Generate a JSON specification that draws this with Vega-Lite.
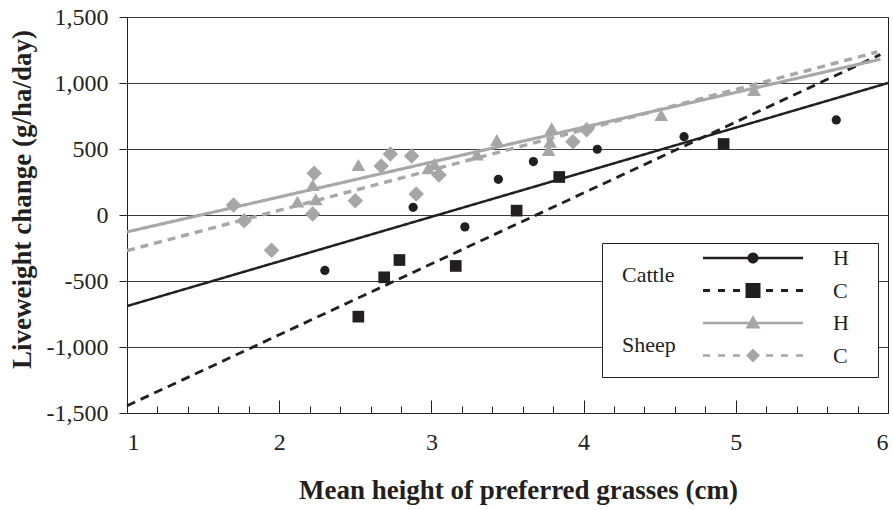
{
  "$schema": "https://vega.github.io/schema/vega-lite/v6.json",
  "width": 761,
  "height": 396,
  "autosize": {"type": "none"},
  "padding": {"left": 127, "top": 17, "right": 5, "bottom": 97},
  "background": "white",
  "config": {
    "view": {"stroke": "#231f20", "strokeWidth": 1},
    "font": "Liberation Serif",
    "axis": {"labelFont": "Liberation Serif", "titleFont": "Liberation Serif", "labelFontSize": 24, "labelColor": "#231f20", "titleColor": "#231f20"},
    "legend": {"labelFont": "Liberation Serif", "titleFont": "Liberation Serif"}
  },
  "datasets": {
    "points": [
      {"series": "Cattle H", "x": 2.30, "y": -420},
      {"series": "Cattle H", "x": 2.88, "y": 58},
      {"series": "Cattle H", "x": 3.22, "y": -90},
      {"series": "Cattle H", "x": 3.44, "y": 270},
      {"series": "Cattle H", "x": 3.67, "y": 405},
      {"series": "Cattle H", "x": 4.09, "y": 498},
      {"series": "Cattle H", "x": 4.66, "y": 593},
      {"series": "Cattle H", "x": 5.66, "y": 720},
      {"series": "Cattle C", "x": 2.52, "y": -770},
      {"series": "Cattle C", "x": 2.69, "y": -472},
      {"series": "Cattle C", "x": 2.79, "y": -341},
      {"series": "Cattle C", "x": 3.16, "y": -386},
      {"series": "Cattle C", "x": 3.56, "y": 33},
      {"series": "Cattle C", "x": 3.84, "y": 288},
      {"series": "Cattle C", "x": 4.92, "y": 538},
      {"series": "Sheep H", "x": 2.12, "y": 101},
      {"series": "Sheep H", "x": 2.22, "y": 227},
      {"series": "Sheep H", "x": 2.24, "y": 119},
      {"series": "Sheep H", "x": 2.52, "y": 379},
      {"series": "Sheep H", "x": 2.98, "y": 354},
      {"series": "Sheep H", "x": 3.02, "y": 386},
      {"series": "Sheep H", "x": 3.30, "y": 458},
      {"series": "Sheep H", "x": 3.43, "y": 568},
      {"series": "Sheep H", "x": 3.77, "y": 492},
      {"series": "Sheep H", "x": 3.78, "y": 555},
      {"series": "Sheep H", "x": 3.79, "y": 657},
      {"series": "Sheep H", "x": 4.51, "y": 758},
      {"series": "Sheep H", "x": 5.12, "y": 947},
      {"series": "Sheep C", "x": 1.70, "y": 76},
      {"series": "Sheep C", "x": 1.77, "y": -43},
      {"series": "Sheep C", "x": 1.95, "y": -267},
      {"series": "Sheep C", "x": 2.23, "y": 316},
      {"series": "Sheep C", "x": 2.22, "y": 8},
      {"series": "Sheep C", "x": 2.50, "y": 108},
      {"series": "Sheep C", "x": 2.67, "y": 371},
      {"series": "Sheep C", "x": 2.73, "y": 462},
      {"series": "Sheep C", "x": 2.87, "y": 447},
      {"series": "Sheep C", "x": 2.90, "y": 159},
      {"series": "Sheep C", "x": 3.05, "y": 303},
      {"series": "Sheep C", "x": 3.93, "y": 555},
      {"series": "Sheep C", "x": 4.02, "y": 646}
    ],
    "lines": [
      {"series": "Cattle H", "animal": "Cattle", "x": 1, "y": -690},
      {"series": "Cattle H", "animal": "Cattle", "x": 6, "y": 1000},
      {"series": "Cattle C", "animal": "Cattle", "x": 1, "y": -1445},
      {"series": "Cattle C", "animal": "Cattle", "x": 5.95, "y": 1215},
      {"series": "Sheep H", "animal": "Sheep", "x": 1, "y": -128},
      {"series": "Sheep H", "animal": "Sheep", "x": 5.95, "y": 1180},
      {"series": "Sheep C", "animal": "Sheep", "x": 1, "y": -270},
      {"series": "Sheep C", "animal": "Sheep", "x": 5.93, "y": 1235}
    ]
  },
  "encoding": {
    "x": {
      "field": "x", "type": "quantitative",
      "scale": {"domain": [1, 6], "nice": false, "zero": false},
      "axis": {
        "orient": "bottom",
        "values": [1, 1.2, 1.4, 1.6, 1.8, 2, 2.2, 2.4, 2.6, 2.8, 3, 3.2, 3.4, 3.6, 3.8, 4, 4.2, 4.4, 4.6, 4.8, 5, 5.2, 5.4, 5.6, 5.8, 6],
        "labelExpr": "datum.value % 1 === 0 ? format(datum.value, 'd') : ''",
        "tickSize": {"condition": {"test": "datum.value % 1 === 0", "value": -13}, "value": -7},
        "tickColor": "#231f20", "tickWidth": 1,
        "domainColor": "#231f20", "domainWidth": 1, "grid": false,
        "labelFont": "Liberation Serif", "labelFontSize": 24, "labelColor": "#231f20",
        "labelPadding": 30, "labelFlush": true, "labelOverlap": false,
        "title": "Mean height of preferred grasses (cm)",
        "titleFont": "Liberation Serif", "titleFontSize": 27, "titleFontWeight": "bold", "titleColor": "#231f20",
        "titlePadding": 17, "titleX": 391
      }
    },
    "y": {
      "field": "y", "type": "quantitative",
      "scale": {"domain": [-1500, 1500], "nice": false, "zero": false},
      "axis": {
        "orient": "left",
        "values": [-1500, -1000, -500, 0, 500, 1000, 1500],
        "labelExpr": "datum.value < 0 ? '-' + format(-datum.value, ',') : format(datum.value, ',')",
        "tickSize": 8, "tickColor": "#231f20", "domainColor": "#231f20",
        "grid": true, "gridColor": "#3a3a3a", "gridWidth": 1,
        "labelFont": "Liberation Serif", "labelFontSize": 24, "labelColor": "#231f20", "labelPadding": 11,
        "title": "Liveweight change (g/ha/day)",
        "titleFont": "Liberation Serif", "titleFontSize": 27, "titleFontWeight": "bold", "titleColor": "#231f20",
        "titlePadding": 10, "titleY": 182
      }
    }
  },
  "resolve": {
    "scale": {"color": "independent", "shape": "independent"}
  },
  "layer": [
    {
      "data": {"name": "lines"},
      "mark": {"type": "line"},
      "encoding": {
        "color": {
          "field": "series", "type": "nominal",
          "scale": {"domain": ["Cattle H", "Cattle C", "Sheep H", "Sheep C"], "range": ["#231f20", "#231f20", "#a8a8aa", "#a8a8aa"]},
          "legend": null
        },
        "strokeDash": {
          "field": "series", "type": "nominal",
          "scale": {"domain": ["Cattle H", "Cattle C", "Sheep H", "Sheep C"], "range": [[1, 0], [9, 6], [1, 0], [8, 6]]},
          "legend": null
        },
        "strokeWidth": {
          "field": "series", "type": "ordinal",
          "scale": {"domain": ["Cattle H", "Cattle C", "Sheep H", "Sheep C"], "range": [2.5, 3.5, 2.5, 2.5]},
          "legend": null
        },
        "opacity": {
          "field": "animal", "type": "ordinal",
          "scale": {"domain": ["Cattle", "Sheep"], "range": [1, 1]},
          "legend": {
            "title": null, "orient": "none", "legendX": 475, "legendY": 226, "direction": "vertical",
            "padding": 21, "rowPadding": 48, "strokeColor": "#231f20", "fillColor": "white", "cornerRadius": 0,
            "symbolType": "M0,0M223,0", "symbolSize": 4, "symbolStrokeWidth": 0,
            "labelFont": "Liberation Serif", "labelFontSize": 22, "labelColor": "#231f20", "labelOffset": -23
          }
        }
      }
    },
    {
      "data": {"name": "points"},
      "mark": {"type": "point", "filled": true, "opacity": 1, "strokeWidth": 0},
      "encoding": {
        "color": {
          "field": "series", "type": "nominal",
          "scale": {"domain": ["Cattle H", "Cattle C", "Sheep H", "Sheep C"], "range": ["#231f20", "#231f20", "#a6a6a8", "#a6a6a8"]},
          "legend": null
        },
        "shape": {
          "field": "series", "type": "nominal",
          "scale": {"domain": ["Cattle H", "Cattle C", "Sheep H", "Sheep C"], "range": ["circle", "square", "triangle-up", "diamond"]},
          "legend": null
        },
        "size": {
          "field": "series", "type": "ordinal",
          "scale": {"domain": ["Cattle H", "Cattle C", "Sheep H", "Sheep C"], "range": [85, 240, 225, 196]},
          "legend": null
        }
      }
    },
    {
      "data": {"name": "points"},
      "mark": {"type": "point", "filled": true, "size": 4, "strokeWidth": 0, "opacity": 0},
      "encoding": {
        "color": {
          "field": "series", "type": "nominal",
          "scale": {"domain": ["Cattle H", "Cattle C", "Sheep H", "Sheep C"], "range": ["#231f20", "#231f20", "#a6a6a8", "#a6a6a8"]},
          "legend": {
            "title": null, "orient": "none", "legendX": 576, "legendY": 230, "direction": "vertical",
            "padding": 0, "rowPadding": 10.5, "symbolSize": 4, "symbolStrokeWidth": 0, "symbolOpacity": 1,
            "labelFont": "Liberation Serif", "labelFontSize": 22, "labelColor": "#231f20", "labelOffset": 108,
            "labelExpr": "slice(datum.label, -1)"
          }
        },
        "shape": {
          "field": "series", "type": "nominal",
          "scale": {
            "domain": ["Cattle H", "Cattle C", "Sheep H", "Sheep C"],
            "range": [
              "M-11,-1.35H89V1.35H-11ZM33.5,0A5.5,5.5,0,1,1,44.5,0A5.5,5.5,0,1,1,33.5,0Z",
              "M-11,-1.5H-4V1.5H-11ZM4,-1.5H11V1.5H4ZM19,-1.5H26V1.5H19ZM31.5,-7.5H46.5V7.5H31.5ZM52,-1.5H59V1.5H52ZM67,-1.5H74V1.5H67ZM82,-1.5H89V1.5H82Z",
              "M-11,-1.35H89V1.35H-11ZM39,-8L46.5,5.5H31.5Z",
              "M-11,-1.35H-4V1.35H-11ZM4,-1.35H11V1.35H4ZM19,-1.35H26V1.35H19ZM39,-7L46,0L39,7L32,0ZM52,-1.35H59V1.35H52ZM67,-1.35H74V1.35H67ZM82,-1.35H89V1.35H82Z"
            ]
          },
          "legend": {
            "title": null, "orient": "none", "legendX": 576, "legendY": 230, "direction": "vertical",
            "padding": 0, "rowPadding": 10.5, "symbolSize": 4, "symbolStrokeWidth": 0, "symbolOpacity": 1,
            "labelFont": "Liberation Serif", "labelFontSize": 22, "labelColor": "#231f20", "labelOffset": 108,
            "labelExpr": "slice(datum.label, -1)"
          }
        }
      }
    }
  ]
}
